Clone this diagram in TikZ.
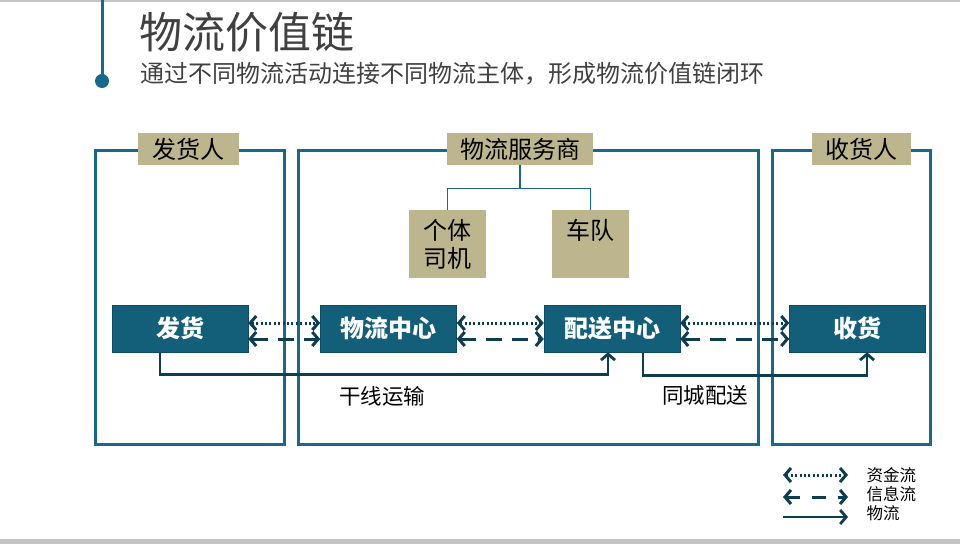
\documentclass[tikz,border=0pt]{standalone}
\usepackage{fontspec}
\setmainfont{Noto Sans CJK SC}
\usepackage{tikz}
\usetikzlibrary{arrows.meta,positioning}
\definecolor{ChainBlue}{HTML}{17688A}
\definecolor{ChainBox}{HTML}{135F7A}
\definecolor{ChainNavy}{HTML}{0E3C50}
\definecolor{ChainTan}{HTML}{BDB58E}
\definecolor{ChainGray}{HTML}{404040}
\definecolor{ChainRule}{HTML}{C4C4C4}

\begin{document}
\begin{tikzpicture}[x=1pt, y=-1pt,
  frame/.style={draw=ChainBlue, line width=3pt, minimum height=294pt},
  tag/.style={fill=ChainTan, inner sep=0pt, minimum height=32pt, font=\fontsize{24}{26}\selectfont},
  sub/.style={fill=ChainTan, inner sep=0pt, minimum width=77pt, minimum height=68pt, align=center, font=\fontsize{24}{28}\selectfont},
  stage/.style={fill=ChainBox, draw=ChainBox!80!black, line width=.5pt, minimum width=136pt, minimum height=47pt, text=white, font=\fontsize{24}{26}\selectfont\bfseries},
  money/.style={{Straight Barb[length=6pt,width=14pt]}-{Straight Barb[length=6pt,width=14pt]}, draw=ChainNavy, line width=3pt, dash pattern=on 2pt off 2.4pt},
  info/.style={{Straight Barb[length=6pt,width=14pt]}-{Straight Barb[length=6pt,width=14pt]}, draw=ChainNavy, line width=3pt, dash pattern=on 16pt off 10pt},
  goods/.style={-{Straight Barb[length=6pt,width=14pt]}, draw=ChainNavy, line width=2.8pt},
  tree/.style={draw=ChainBlue, line width=1.2pt},
  note/.style={font=\fontsize{21.5}{24}\selectfont}
]
  \useasboundingbox (0,0) rectangle (960,544);
  % header
  \fill[ChainRule] (0,0) rectangle (960,2);
  \fill[ChainRule] (0,539) rectangle (960,544);
  \draw[ChainBlue, line width=3pt] (102,0) -- (102,78);
  \fill[ChainBlue] (102,81) circle (7);
  \node[anchor=west, text=ChainGray, font=\fontsize{43}{46}\selectfont] (title) at (136,32) {物流价值链};
  \node[anchor=west, text=ChainGray, font=\fontsize{24}{27}\selectfont] (subtitle) at (137,74) {通过不同物流活动连接不同物流主体，形成物流价值链闭环};

  % frames and tags
  \node[frame, minimum width=189pt] (shipper) at (189.5,297) {};
  \node[frame, minimum width=460pt] (provider) at (528,297) {};
  \node[frame, minimum width=158pt] (receiver) at (851,297) {};
  \node[tag, minimum width=101pt] (shipperTag) at (188.5,149) {发货人};
  \node[tag, minimum width=146pt] (providerTag) at (520,149) {物流服务商};
  \node[tag, minimum width=99pt] (receiverTag) at (861.5,149) {收货人};

  % provider members
  \node[sub] (driver) at (447.5,244) {个体\\司机};
  \node[sub, text depth=30pt] (fleet) at (590.5,244) {车队};
  \draw[tree] (providerTag.south) -- ++(0,23) -| (driver.north);
  \draw[tree] (providerTag.south) -- ++(0,23) -| (fleet.north);

  % stages
  \node[stage] (ship) at (180,328.5) {发货};
  \node[stage] (hub) at (388.5,328.5) {物流中心};
  \node[stage] (dist) at (612,328.5) {配送中心};
  \node[stage] (recv) at (857.5,328.5) {收货};

  \foreach \a/\b in {ship/hub, hub/dist, dist/recv}{
    \draw[money] ([yshift=5.5pt]\a.east) -- ([yshift=5.5pt]\b.west);
    \draw[info] ([yshift=-10.5pt]\a.east) -- ([yshift=-10.5pt]\b.west);
  }
  \draw[goods] ([xshift=-20pt]ship.south) -- ++(0,22) -| ([xshift=-4pt]dist.south);
  \draw[goods] ([xshift=31pt]dist.south) -- ++(0,23) -| ([xshift=9.5pt]recv.south);
  \node[note] (trunk) at (382,396) {干线运输};
  \node[note] (city) at (705,395) {同城配送};

  % legend
  \coordinate (l1a) at (783,475); \coordinate (l1b) at (848,475);
  \coordinate (l2a) at (783,497); \coordinate (l2b) at (848,497);
  \coordinate (l3a) at (783,517); \coordinate (l3b) at (848,517);
  \draw[money] (l1a) -- (l1b);
  \draw[info, dash pattern=on 14pt off 12pt] (l2a) -- (l2b);
  \draw[goods] (l3a) -- (l3b);
  \node[anchor=west, font=\fontsize{16.5}{18}\selectfont] (k1) at (863,475) {资金流};
  \node[anchor=west, font=\fontsize{16.5}{18}\selectfont] (k2) at (863,494) {信息流};
  \node[anchor=west, font=\fontsize{16.5}{18}\selectfont] (k3) at (863,513) {物流};
\end{tikzpicture}
\end{document}
